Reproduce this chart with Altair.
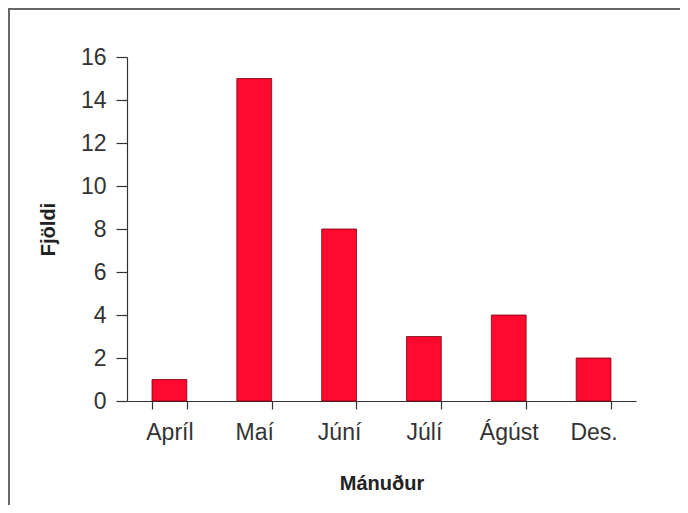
import altair as alt
import pandas as pd

months = ["Apríl", "Maí", "Júní", "Júlí", "Ágúst", "Des."]
counts = [1, 15, 8, 3, 4, 2]
y_ticks = [0, 2, 4, 6, 8, 10, 12, 14, 16]

df = pd.DataFrame({"month": months, "count": counts})

FONT = "Liberation Sans"

bars = alt.Chart(df).mark_bar(
    fill="#FF0A2E", stroke="#7a0010", strokeWidth=0.8
).encode(
    x=alt.X(
        "month:N",
        sort=months,
        scale=alt.Scale(paddingInner=0.59, paddingOuter=0.295),
        axis=alt.Axis(
            title="Mánuður",
            labelAngle=0,
            tickBand="extent",
            tickSize=8,
            labelPadding=12,
            titlePadding=29,
        ),
    ),
    y=alt.Y(
        "count:Q",
        scale=alt.Scale(domain=[0, 16], nice=False),
        axis=alt.Axis(
            title="Fjöldi",
            values=y_ticks,
            tickSize=11,
            labelPadding=10,
            titlePadding=22,
            grid=False,
        ),
    ),
)

frame_top = alt.Chart(df).mark_rect(fill="#666666", strokeWidth=0).encode(
    x=alt.value(-119), x2=alt.value(560), y=alt.value(-49), y2=alt.value(-47.5)
)
frame_left = alt.Chart(df).mark_rect(fill="#666666", strokeWidth=0).encode(
    x=alt.value(-119), x2=alt.value(-117.5), y=alt.value(-49), y2=alt.value(460)
)

chart = alt.layer(frame_top, frame_left, bars).properties(
    width=509,
    height=344,
    autosize=alt.AutoSizeParams(type="none"),
    padding={"left": 119, "top": 49, "right": 44, "bottom": 104},
).configure(
    background="white",
).configure_view(
    stroke=None
).configure_axis(
    labelFont=FONT,
    labelFontSize=23,
    labelColor="#333333",
    titleFont=FONT,
    titleFontSize=20,
    titleFontWeight="bold",
    titleColor="#222222",
    domainColor="#333333",
    tickColor="#333333",
    domainWidth=1.2,
    tickWidth=1.2,
)

chart.save("out.html", embed_options={"renderer": "svg", "actions": False})
